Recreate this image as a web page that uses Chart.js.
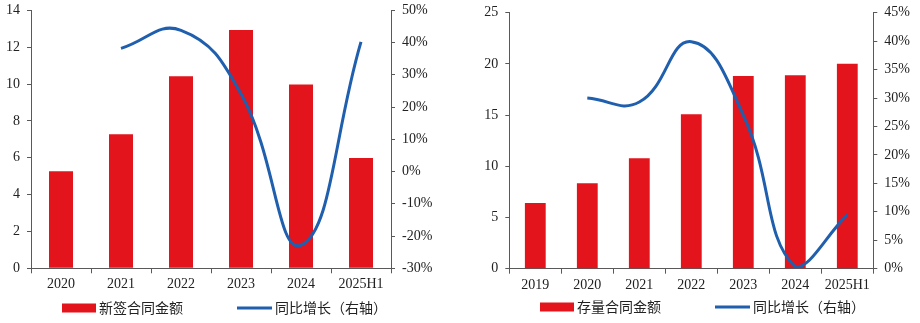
<!DOCTYPE html>
<html>
<head>
<meta charset="utf-8">
<script src="https://cdn.jsdelivr.net/npm/chart.js@4/dist/chart.umd.min.js"></script>
<style>
  html, body { margin: 0; padding: 0; background: #fff; }
  #wrap { position: relative; width: 920px; height: 323px; }
  canvas { position: absolute; top: 0; }
  #c1 { left: 0; }
  #c2 { left: 460px; }
</style>
</head>
<body>
<div id="wrap">
  <canvas id="c1" width="460" height="323"></canvas>
  <canvas id="c2" width="460" height="323"></canvas>
</div>
<script>
// New contracts (left panel)
const newYears = ['2020', '2021', '2022', '2023', '2024', '2025H1'];
const newAmount = [5.26, 7.27, 10.42, 12.93, 9.98, 5.98];
const newGrowth = [null, 38.2, 43.8, 24.1, -22.8, 40.2];
const newLeftTicks = [0, 2, 4, 6, 8, 10, 12, 14];
const newRightTicks = [-30, -20, -10, 0, 10, 20, 30, 40, 50];

// Backlog contracts (right panel)
const backlogYears = ['2019', '2020', '2021', '2022', '2023', '2024', '2025H1'];
const backlogAmount = [6.41, 8.34, 10.78, 15.08, 18.82, 18.88, 20.02];
const backlogGrowth = [null, 30.0, 29.3, 39.9, 27.0, 0.3, 9.5];
const backlogLeftTicks = [0, 5, 10, 15, 20, 25];
const backlogRightTicks = [0, 5, 10, 15, 20, 25, 30, 35, 40, 45];

const legendNames = {
  newBar: '新签合同金额',
  backlogBar: '存量合同金额',
  growth: '同比增长（右轴）'
};

const RED = '#e3141c';
const BLUE = '#1f5fad';
const AXIS = '#595959';
const TEXT = '#222';
const SERIF = '"Liberation Serif", "Times New Roman", serif';
const CJK = '"Noto Sans CJK SC", "Noto Sans", sans-serif';

// Legend row drawn under each panel
function legendPlugin(cfg) {
  return {
    id: 'bottomLegend',
    afterDraw(chart) {
      const ctx = chart.ctx;
      ctx.save();
      ctx.fillStyle = RED;
      ctx.fillRect(cfg.boxX, cfg.y - 4.5, 34, 9);
      ctx.strokeStyle = BLUE;
      ctx.lineWidth = 3;
      ctx.beginPath();
      ctx.moveTo(cfg.lineX, cfg.y);
      ctx.lineTo(cfg.lineX + 35, cfg.y);
      ctx.stroke();
      ctx.fillStyle = TEXT;
      ctx.font = '14px ' + CJK;
      ctx.textBaseline = 'middle';
      ctx.textAlign = 'left';
      ctx.fillText(cfg.barLabel, cfg.boxX + 37, cfg.y);
      ctx.fillText(legendNames.growth, cfg.lineX + 38, cfg.y);
      ctx.restore();
    }
  };
}

function makeChart(id, p) {
  const leftTicks = p.leftTicks, rightTicks = p.rightTicks;
  const fitVertical = w => s => {
    s.width = w;
    s.paddingTop = 0;
    s.paddingBottom = 0;
  };
  return new Chart(document.getElementById(id), {
    type: 'bar',
    data: {
      labels: p.labels,
      datasets: [
        {
          type: 'line',
          label: legendNames.growth,
          data: p.growth,
          yAxisID: 'y1',
          borderColor: BLUE,
          borderWidth: 3,
          pointRadius: 0,
          tension: 0.45,
          fill: false,
          order: 0
        },
        {
          type: 'bar',
          label: p.barLabel,
          data: p.amount,
          yAxisID: 'y',
          backgroundColor: RED,
          categoryPercentage: 1,
          barPercentage: 0.4,
          order: 1
        }
      ]
    },
    options: {
      responsive: false,
      animation: false,
      layout: { padding: { top: p.top, left: 0, right: 0, bottom: 0 } },
      plugins: { legend: { display: false }, tooltip: { enabled: false } },
      scales: {
        x: {
          grid: {
            display: true, drawOnChartArea: false, drawTicks: true,
            tickLength: 5, color: AXIS, offset: true
          },
          border: { display: true, color: AXIS, width: 1 },
          ticks: { color: TEXT, font: { family: SERIF, size: 14 }, padding: 3, maxRotation: 0 },
          afterFit(s) {
            s.height = p.xHeight;
            s.paddingLeft = 0;
            s.paddingRight = 0;
          }
        },
        y: {
          position: 'left',
          min: leftTicks[0], max: leftTicks[leftTicks.length - 1],
          afterBuildTicks(s) { s.ticks = leftTicks.map(v => ({ value: v })); },
          grid: { display: true, drawOnChartArea: false, tickLength: 4, color: AXIS },
          border: { display: true, color: AXIS, width: 1 },
          ticks: { color: TEXT, font: { family: SERIF, size: 14 }, padding: 7 },
          afterFit: fitVertical(p.leftW)
        },
        y1: {
          position: 'right',
          min: rightTicks[0], max: rightTicks[rightTicks.length - 1],
          afterBuildTicks(s) { s.ticks = rightTicks.map(v => ({ value: v })); },
          grid: { display: true, drawOnChartArea: false, tickLength: 4, color: AXIS },
          border: { display: true, color: AXIS, width: 1 },
          ticks: {
            color: TEXT, font: { family: SERIF, size: 14 }, padding: 7,
            callback: v => v + '%'
          },
          afterFit: fitVertical(p.rightW)
        }
      }
    },
    plugins: [legendPlugin(p.legend)]
  });
}

makeChart('c1', {
  labels: newYears, amount: newAmount, growth: newGrowth,
  leftTicks: newLeftTicks, rightTicks: newRightTicks,
  barLabel: legendNames.newBar,
  top: 10.3, xHeight: 54.7, leftW: 31, rightW: 69,
  legend: { boxX: 62, lineX: 237, y: 308, barLabel: legendNames.newBar }
});

makeChart('c2', {
  labels: backlogYears, amount: backlogAmount, growth: backlogGrowth,
  leftTicks: backlogLeftTicks, rightTicks: backlogRightTicks,
  barLabel: legendNames.backlogBar,
  top: 12.7, xHeight: 54.3, leftW: 49.3, rightW: 46.7,
  legend: { boxX: 80, lineX: 255, y: 307, barLabel: legendNames.backlogBar }
});
</script>
</body>
</html>
